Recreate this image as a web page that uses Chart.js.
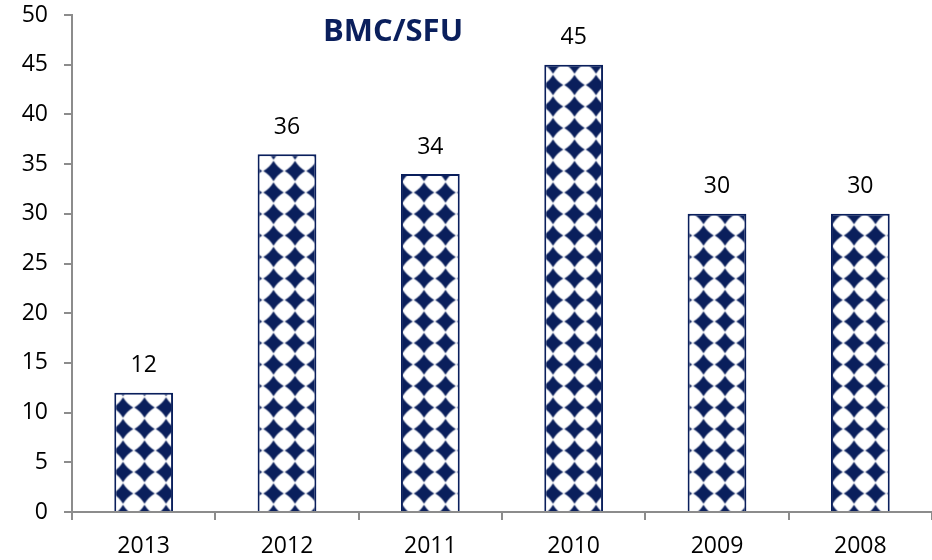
<!DOCTYPE html>
<html>
<head>
<meta charset="utf-8">
<script src="https://cdn.jsdelivr.net/npm/chart.js@4/dist/chart.umd.min.js"></script>
<style>
  html, body { margin: 0; padding: 0; background: #ffffff; }
  #wrap { width: 932px; height: 560px; position: relative; }
</style>
</head>
<body>
<div id="wrap"><canvas id="c" width="932" height="560"></canvas></div>
<script>
const categories = ['2013', '2012', '2011', '2010', '2009', '2008'];
const values = [12, 36, 34, 45, 30, 30];
const yTicks = [0, 5, 10, 15, 20, 25, 30, 35, 40, 45, 50];
const chartTitle = 'BMC/SFU';

const NAVY = '#0a1f5c';
const AXIS = '#8c8c8c';
const FONT = "'Open Sans', 'Noto Sans', sans-serif";

function makePattern(ctx) {
  const S = 43; // tile drawn at 2x, shown at 21.5px
  const t = document.createElement('canvas');
  t.width = S; t.height = S;
  const g = t.getContext('2d');
  g.fillStyle = '#ffffff';
  g.fillRect(0, 0, S, S);
  g.fillStyle = NAVY;
  g.filter = 'blur(1.2px)';
  const r = 20.5, k = 0.37;
  const centers = [[0,0],[S,0],[0,S],[S,S]];
  for (const [cx, cy] of centers) {
    g.beginPath();
    g.moveTo(cx, cy - r);
    g.quadraticCurveTo(cx + r * k, cy - r * k, cx + r, cy);
    g.quadraticCurveTo(cx + r * k, cy + r * k, cx, cy + r);
    g.quadraticCurveTo(cx - r * k, cy + r * k, cx - r, cy);
    g.quadraticCurveTo(cx - r * k, cy - r * k, cx, cy - r);
    g.closePath();
    g.fill();
  }
  const p = ctx.createPattern(t, 'repeat');
  p.setTransform(new DOMMatrix([0.5, 0, 0, 0.5, 15.5, -1]));
  return p;
}

const canvas = document.getElementById('c');
const ctx = canvas.getContext('2d');
const pattern = makePattern(ctx);

const labelPlugin = {
  id: 'valueLabels',
  afterDatasetsDraw(chart) {
    const c = chart.ctx;
    const meta = chart.getDatasetMeta(0);
    c.save();
    c.font = '23px ' + FONT;
    c.fillStyle = '#000000';
    c.textAlign = 'center';
    c.textBaseline = 'middle';
    meta.data.forEach((bar, i) => {
      c.fillText(String(values[i]), bar.x, bar.y - 27);
    });
    c.restore();
  }
};

const titlePlugin = {
  id: 'innerTitle',
  afterDraw(chart) {
    const c = chart.ctx;
    c.save();
    c.font = 'bold 31px ' + FONT;
    c.fillStyle = NAVY;
    c.textAlign = 'center';
    c.textBaseline = 'middle';
    c.fillText(chartTitle, 393, 32);
    c.restore();
  }
};

new Chart(ctx, {
  type: 'bar',
  data: {
    labels: categories,
    datasets: [{
      data: values,
      backgroundColor: pattern,
      borderColor: NAVY,
      borderWidth: 2,
      borderSkipped: 'bottom',
      barPercentage: 0.41,
      categoryPercentage: 1.0
    }]
  },
  options: {
    responsive: false,
    animation: false,
    devicePixelRatio: 1,
    layout: { padding: { top: 15, right: -4, left: 0, bottom: 0 } },
    plugins: {
      legend: { display: false },
      title: { display: false },
      tooltip: { enabled: false }
    },
    scales: {
      x: {
        grid: {
          offset: true,
          drawOnChartArea: false,
          drawTicks: true,
          tickLength: 8,
          color: AXIS,
          lineWidth: 2
        },
        border: { display: true, color: AXIS, width: 2 },
        ticks: {
          color: '#000000',
          font: { family: FONT, size: 23 },
          padding: 13,
          maxRotation: 0
        },
        afterFit(scale) { scale.height = 48; scale.paddingRight = 0; scale.paddingLeft = 0; }
      },
      y: {
        min: 0,
        max: 50,
        afterBuildTicks(scale) { scale.ticks = yTicks.map(v => ({ value: v })); },
        grid: {
          drawOnChartArea: false,
          drawTicks: true,
          tickLength: 8,
          color: AXIS,
          lineWidth: 2
        },
        border: { display: true, color: AXIS, width: 2 },
        ticks: {
          color: '#000000',
          font: { family: FONT, size: 23 },
          padding: 16
        },
        afterFit(scale) { scale.width = 72; scale.paddingTop = 0; scale.paddingBottom = 0; }
      }
    }
  },
  plugins: [labelPlugin, titlePlugin]
});
</script>
</body>
</html>
